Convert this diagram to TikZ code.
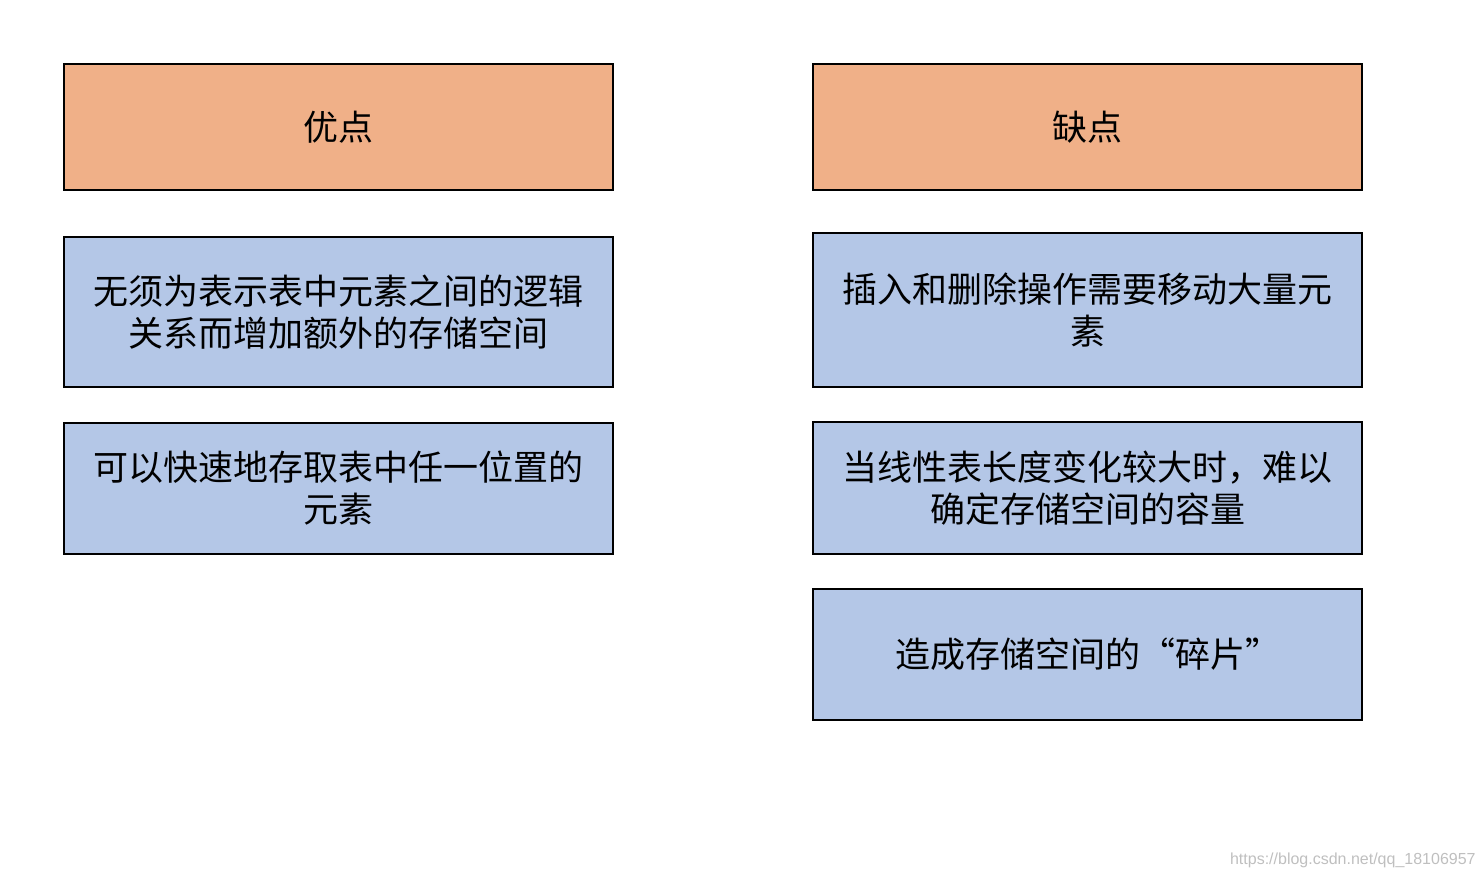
\documentclass[tikz,border=0pt]{standalone}
\usepackage{fontspec}
\newfontfamily\cjk{Noto Sans CJK SC}
\newfontfamily\wm{Liberation Sans}
\definecolor{orng}{HTML}{F0B088}
\definecolor{blu}{HTML}{B4C7E7}
\begin{document}
\begin{tikzpicture}[x=0.5pt,y=-0.5pt,
  box/.style={draw=black,line width=1pt,minimum width=274.5pt,align=center,inner sep=0pt,font=\cjk\fontsize{17.5pt}{21pt}\selectfont},
  head/.style={box,fill=orng},
  item/.style={box,fill=blu}]
\useasboundingbox (0,0) rectangle (1484,878);
\node[head,minimum height=63pt] (pro) at (338.5,127) {优点};
\node[head,minimum height=63pt] (con) at (1087.5,127) {缺点};
\node[item,minimum height=75pt] (p1) at (338.5,312) {无须为表示表中元素之间的逻辑\\关系而增加额外的存储空间};
\node[item,minimum height=65.5pt] (p2) at (338.5,488.5) {可以快速地存取表中任一位置的\\元素};
\node[item,minimum height=77pt] (c1) at (1087.5,310) {插入和删除操作需要移动大量元\\素};
\node[item,minimum height=66pt] (c2) at (1087.5,488) {当线性表长度变化较大时，难以\\确定存储空间的容量};
\node[item,minimum height=65.5pt] (c3) at (1087.5,654.5) {造成存储空间的“碎片”};
\node[anchor=east,text=black!25,font=\wm\fontsize{8pt}{9pt}\selectfont,inner sep=0pt] (wm) at (1476,860) {https://blog.csdn.net/qq\_18106957};
\end{tikzpicture}
\end{document}
